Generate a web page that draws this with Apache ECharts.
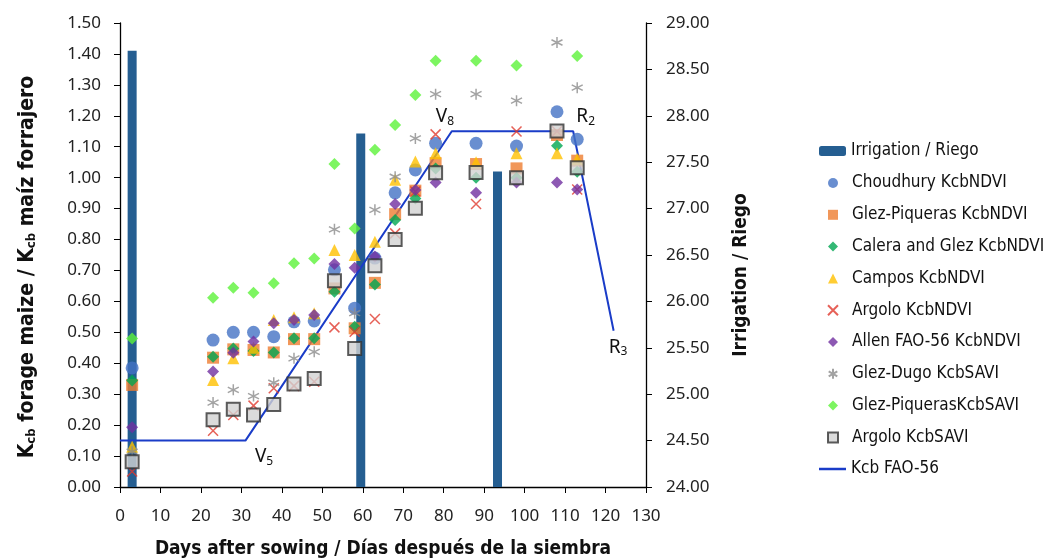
<!DOCTYPE html>
<html><head><meta charset="utf-8">
<script src="https://cdn.jsdelivr.net/npm/echarts@6/dist/echarts.min.js"></script>
<style>html,body{margin:0;padding:0;background:#fff}#c{width:1049px;height:560px}</style>
</head><body><div id="c"></div>
<script>
// ---- data ----
const days = [3,23,28,33,38,43,48,53,58,63,68,73,78,88,98,108,113];
const choudhury   = [0.385,0.475,0.50,0.50,0.486,0.534,0.537,0.702,0.578,0.74,0.951,1.025,1.111,1.111,1.102,1.213,1.124];
const glezPiqNDVI = [0.33,0.418,0.445,0.443,0.435,0.478,0.478,0.642,0.513,0.66,0.882,0.958,1.047,1.044,1.03,1.138,1.055];
const calera      = [0.344,0.421,0.448,0.44,0.435,0.481,0.481,0.631,0.518,0.655,0.863,0.933,1.03,1.0,1.0,1.103,1.019];
const campos      = [0.13,0.346,0.416,0.45,0.54,0.549,0.562,0.766,0.75,0.793,0.993,1.052,1.079,1.05,1.079,1.079,1.06];
const argoloNDVI  = [0.05,0.182,0.233,0.263,0.319,0.327,0.34,0.516,0.502,0.543,0.82,0.955,1.14,0.915,1.149,1.15,0.962];
const allen       = [0.193,0.373,0.434,0.47,0.529,0.54,0.556,0.721,0.709,0.745,0.915,0.96,0.984,0.951,0.984,0.984,0.962];
const glezDugo    = [0.114,0.273,0.314,0.294,0.337,0.416,0.437,0.833,0.562,0.896,1.003,1.127,1.27,1.27,1.249,1.437,1.291];
const glezPiqSAVI = [0.48,0.612,0.644,0.628,0.659,0.723,0.739,1.044,0.836,1.09,1.17,1.267,1.378,1.378,1.363,null,1.393];
const argoloSAVI  = [0.082,0.217,0.251,0.233,0.267,0.333,0.351,0.667,0.448,0.715,0.80,0.901,1.016,1.017,1.0,1.151,1.032];

const irrDays = [3,59.5,93.3];
const irrValues = [28.70,27.81,27.40];

const fao56Days = [0,31,82,112,122];
const fao56Vals = [0.15,0.15,1.15,1.15,0.505];

const stageMain = ['V','V','R','R'];
const stageSub  = ['5','8','2','3'];
const stageDays = [35.6,80.3,115.1,123.1];
const stageVals = [0.098,1.197,1.197,0.452];

const scatterNames = ['Choudhury KcbNDVI','Glez-Piqueras KcbNDVI','Calera and Glez KcbNDVI','Campos KcbNDVI','Argolo KcbNDVI','Allen FAO-56 KcbNDVI','Glez-Dugo KcbSAVI','Glez-PiquerasKcbSAVI','Argolo KcbSAVI'];

// ---- chart ----
const pair = arr => days.map((d,i)=>[d, arr[i]]);
const XPATH = 'path://M0,0L10,10M10,0L0,10';
const STAR = 'path://M5,0L5,10M0.7,2.5L9.3,7.5M0.7,7.5L9.3,2.5';
const tickFont = {fontFamily:'Noto Sans', fontSize:17, color:'#222'};
const condensed = '"Liberation Sans Narrow","DejaVu Sans Condensed","Liberation Sans",sans-serif';
const legendText = {fontFamily:condensed, fontSize:17, color:'#111', lineHeight:20};

function sc(name, arr, symbol, size, style){
  return {name, type:'scatter', data:pair(arr), symbol, symbolSize:size, itemStyle:style, z:3};
}

const chart = echarts.init(document.getElementById('c'), null, {renderer:'canvas'});
chart.setOption({
  animation:false,
  backgroundColor:'#fff',
  grid:{left:120, right:403, top:23, bottom:73, containLabel:false, outerBoundsMode:'none'},
  legend:[{
    orient:'vertical', left:814, top:136, itemWidth:27, itemHeight:10,
    textStyle:legendText, data:['Irrigation / Riego']
  },{
    orient:'vertical', left:822, top:168, itemWidth:10, itemHeight:10, itemGap:11.8,
    textStyle:Object.assign({padding:[0,0,0,9]}, legendText), data:scatterNames
  },{
    orient:'vertical', left:814, top:454, itemWidth:27, itemHeight:2.5,
    textStyle:legendText, data:[{name:'Kcb FAO-56', icon:'rect'}]
  }],
  xAxis:{
    type:'value', min:0, max:130, interval:10,
    axisLine:{lineStyle:{color:'#000', width:1.3}},
    axisTick:{show:true, length:6, lineStyle:{color:'#000'}},
    splitLine:{show:false},
    axisLabel:Object.assign({margin:21}, tickFont),
    name:'Days after sowing / Días después de la siembra', nameLocation:'middle', nameGap:53,
    nameTextStyle:{fontFamily:condensed, fontWeight:'bold', fontSize:19, color:'#111'}
  },
  yAxis:[{
    type:'value', min:0, max:1.5, interval:0.1,
    axisLine:{show:true, lineStyle:{color:'#000', width:1.3}},
    axisTick:{show:true, length:6, lineStyle:{color:'#000'}},
    splitLine:{show:false},
    axisLabel:Object.assign({margin:19, formatter:v=>v.toFixed(2)}, tickFont),
    name:'{b|K}{s|cb}{b| forage maize / K}{s|cb}{b| maíz forrajero}',
    nameLocation:'middle', nameGap:82, nameRotate:90,
    nameTextStyle:{padding:[0,24,0,0], rich:{
      b:{fontFamily:condensed, fontWeight:'bold', fontSize:21, color:'#111'},
      s:{fontFamily:condensed, fontWeight:'bold', fontSize:13, color:'#111', padding:[8,0,0,0]}
    }}
  },{
    type:'value', min:24, max:29, interval:0.5, position:'right',
    axisLine:{show:true, lineStyle:{color:'#000', width:1.3}},
    axisTick:{show:true, length:6, lineStyle:{color:'#000'}},
    splitLine:{show:false},
    axisLabel:Object.assign({margin:20, formatter:v=>v.toFixed(2)}, tickFont),
    name:'Irrigation / Riego', nameLocation:'middle', nameGap:86, nameRotate:90,
    nameTextStyle:{fontFamily:condensed, fontWeight:'bold', fontSize:19, color:'#111', padding:[0,40,0,0]}
  }],
  series:[
    {name:'Irrigation / Riego', type:'bar', yAxisIndex:1, data:irrDays.map((d,i)=>[d,irrValues[i]]),
     barWidth:9, itemStyle:{color:'#255E91'}, clip:true, z:1},
    sc(scatterNames[0], choudhury, 'circle', 13, {color:'#4472C4'}),
    sc(scatterNames[1], glezPiqNDVI, 'rect', 12, {color:'#ED7D31'}),
    sc(scatterNames[2], calera, 'diamond', 12, {color:'#00A651'}),
    sc(scatterNames[3], campos, 'triangle', 12, {color:'#FFC000'}),
    sc(scatterNames[4], argoloNDVI, XPATH, 10, {color:'#E03A2E', borderColor:'#E03A2E', borderWidth:1.5}),
    sc(scatterNames[5], allen, 'diamond', 12, {color:'#7030A0'}),
    sc(scatterNames[6], glezDugo, STAR, 11, {color:'#8C8C8C', borderColor:'#8C8C8C', borderWidth:1.5}),
    sc(scatterNames[7], glezPiqSAVI, 'diamond', 12, {color:'#5CF23A'}),
    sc(scatterNames[8], argoloSAVI, 'rect', 13, {color:'#D2D2D2', borderColor:'#333', borderWidth:2}),
    {name:'Kcb FAO-56', type:'line', data:fao56Days.map((d,i)=>[d,fao56Vals[i]]),
     showSymbol:false, symbol:'none', lineStyle:{color:'#1A3CC8', width:2}, itemStyle:{color:'#1A3CC8'}, z:2,
     markPoint:{
       symbol:'circle', symbolSize:0,
       label:{show:true, position:'inside', formatter:p=>'{m|'+p.data.m+'}{s|'+p.data.s+'}',
         rich:{m:{fontFamily:'Noto Sans', fontSize:19, color:'#111'},
               s:{fontFamily:'Noto Sans', fontSize:12, color:'#111', padding:[9,0,0,0]}}},
       data:stageDays.map((d,i)=>({coord:[d,stageVals[i]], m:stageMain[i], s:stageSub[i]}))
     }}
  ]
});
</script></body></html>
